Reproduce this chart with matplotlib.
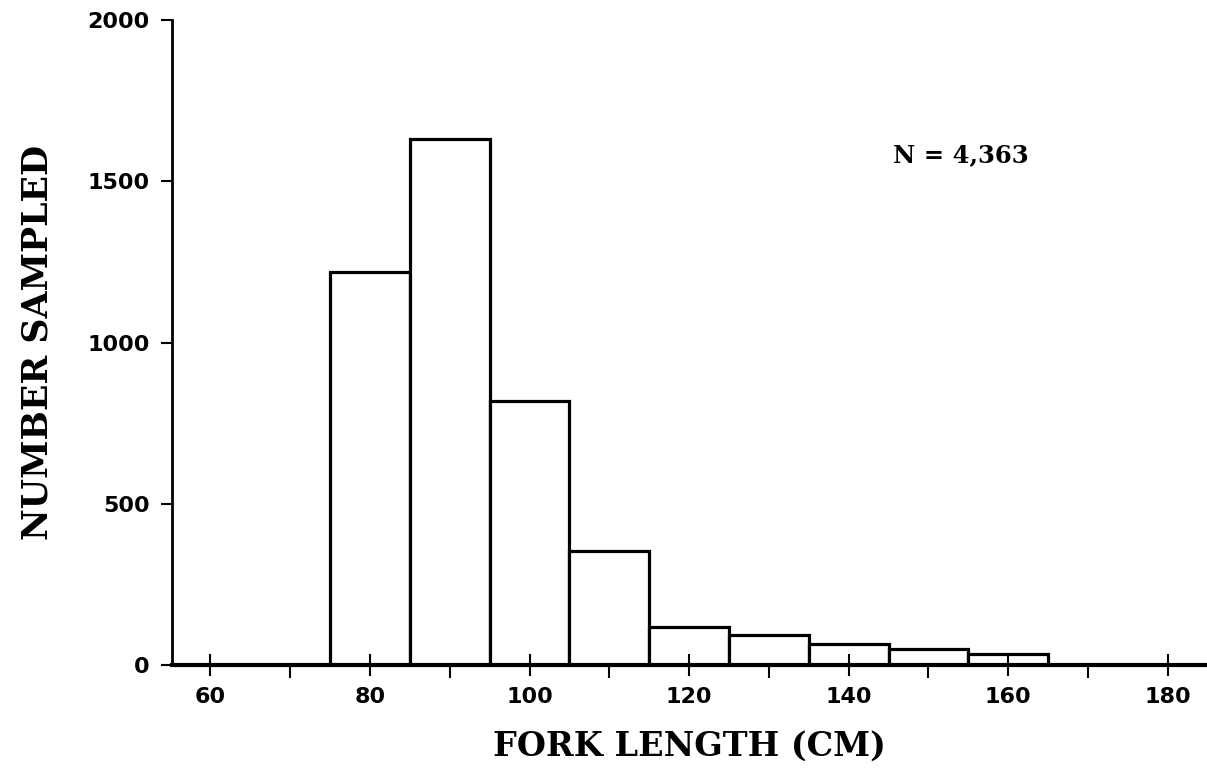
import matplotlib
matplotlib.use("Agg")
import matplotlib.pyplot as plt

# 10-cm fork length bins (left edges) and counts
bin_left = [75, 85, 95, 105, 115, 125, 135, 145, 155]
counts = [1220, 1630, 820, 355, 118, 92, 64, 50, 33]
bin_width = 10
x_ticks = [60, 80, 100, 120, 140, 160, 180]
x_minor = [70, 90, 110, 130, 150, 170]
y_ticks = [0, 500, 1000, 1500, 2000]
note = "N = 4,363"

fig = plt.figure(figsize=(12.07, 7.76), dpi=100)
ax = fig.add_axes([0.1425, 0.143, 0.8575, 0.831])

ax.bar(bin_left, counts, width=bin_width, align="edge",
       facecolor="white", edgecolor="black", linewidth=2.3)

ax.set_xlim(55.2, 184.9)
ax.set_ylim(0, 2000)
ax.spines[["top", "right"]].set_visible(False)
ax.spines["left"].set_linewidth(2)
ax.spines["bottom"].set_linewidth(3)

ax.set_xticks(x_ticks)
ax.set_xticks(x_minor, minor=True)
ax.tick_params(axis="x", which="major", direction="inout", length=16, width=1.5, pad=8)
ax.tick_params(axis="x", which="minor", direction="out", length=9, width=1.5)
ax.set_yticks(y_ticks)
ax.tick_params(axis="y", direction="out", length=8, width=1.5, pad=8)

for lab in ax.get_xticklabels() + ax.get_yticklabels():
    lab.set_fontweight("bold")
    lab.set_fontsize(16)

ax.set_xlabel("FORK LENGTH (CM)", fontsize=24, fontweight="bold",
              family="DejaVu Serif", labelpad=16)
ax.set_ylabel("NUMBER SAMPLED", fontsize=25, fontweight="bold",
              family="DejaVu Serif", labelpad=24)
ax.text(145.5, 1580, note, fontsize=17.5, fontweight="bold",
        family="DejaVu Serif", va="center", ha="left")

fig.savefig("out.png", dpi=100)
